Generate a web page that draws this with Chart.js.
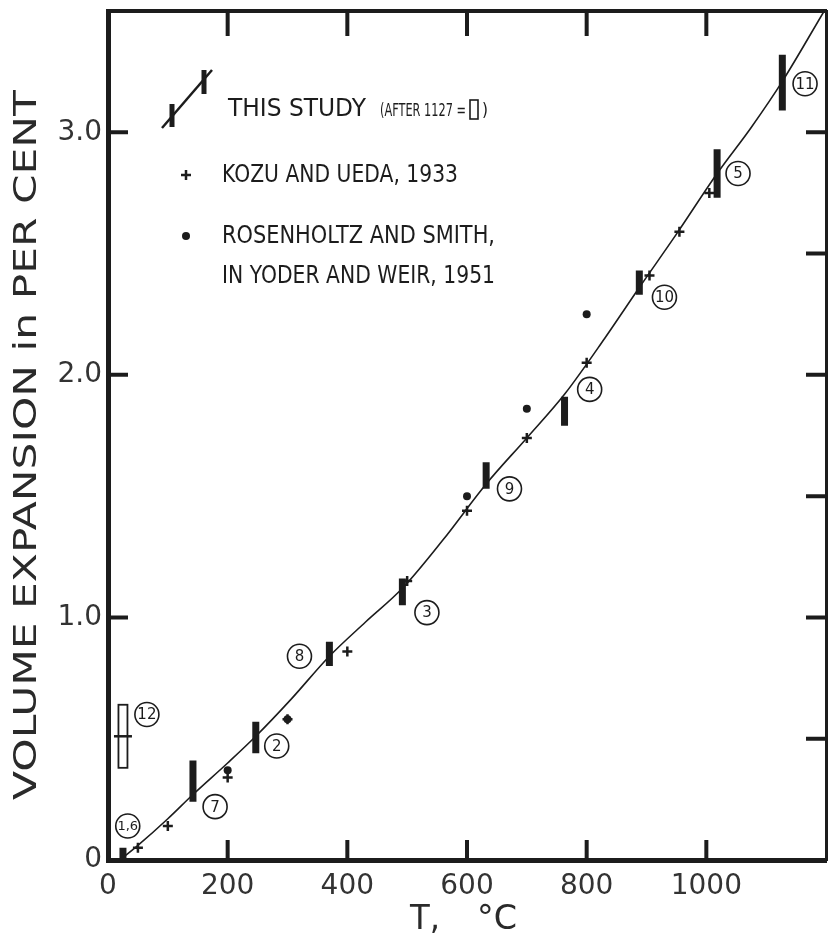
<!DOCTYPE html>
<html>
<head>
<meta charset="utf-8">
<script src="https://cdn.jsdelivr.net/npm/chart.js@4"></script>
<style>
  html, body { margin: 0; padding: 0; background: #fff; }
  #wrap { width: 829px; height: 939px; }
</style>
</head>
<body>
<div id="wrap"><canvas id="chart"></canvas></div>
<script>
// this study: temperature of each run and the range measured
const runT    = [25, 142, 247, 370, 492, 632, 763, 888, 1018, 1127];
const runLow  = [-0.03, 0.24, 0.44, 0.80, 1.05, 1.53, 1.79, 2.33, 2.73, 3.09];
const runHigh = [0.05, 0.41, 0.57, 0.90, 1.16, 1.64, 1.91, 2.43, 2.93, 3.32];
const runNames = ['1,6', '7', '2', '8', '3', '9', '4', '10', '5', '11'];
const runNameT = [33, 179, 282, 320, 533, 671, 805, 930, 1053, 1165];
const runNameY = [0.14, 0.22, 0.47, 0.84, 1.02, 1.53, 1.94, 2.32, 2.83, 3.20];

// run 12, measured after 1127 (open box)
const afterT = [25];
const afterLow = [0.38];
const afterHigh = [0.64];
const afterMid = [0.51];
const afterNames = ['12'];
const afterNameT = [65];
const afterNameY = [0.60];

// Kozu and Ueda, 1933
const kozuT = [50, 100, 200, 300, 400, 500, 600, 700, 800, 905, 955, 1005];
const kozuY = [0.05, 0.14, 0.34, 0.58, 0.86, 1.15, 1.44, 1.74, 2.05, 2.41, 2.59, 2.75];

// Rosenholtz and Smith, in Yoder and Weir, 1951
const rosT = [200, 300, 600, 700, 800];
const rosY = [0.37, 0.58, 1.50, 1.86, 2.25];

// drawn curve
const curveT = [20, 50, 100, 142, 200, 247, 305, 370, 430, 492, 560, 632, 700, 763, 830, 888, 950, 1018, 1075, 1127, 1197];
const curveY = [0.0, 0.06, 0.17, 0.27, 0.40, 0.51, 0.66, 0.84, 0.98, 1.12, 1.32, 1.55, 1.74, 1.92, 2.15, 2.36, 2.58, 2.83, 3.02, 3.21, 3.5];

const ink = '#1c1c1c';
const font = '"DejaVu Sans", sans-serif';

function pts(xs, ys) {
  return xs.map((v, i) => ({ x: v, y: ys[i] }));
}

// vertical ranges as one line with gaps between them
function ranges(xs, lo, hi) {
  let out = [];
  for (let i = 0; i < xs.length; i++) {
    out.push({ x: xs[i], y: lo[i] }, { x: xs[i], y: hi[i] }, { x: xs[i], y: null });
  }
  return out;
}

// text squeezed or stretched to a given width
function fitText(ctx, str, x, y, size, width, rot) {
  ctx.save();
  ctx.font = size + 'px ' + font;
  let w = ctx.measureText(str).width;
  ctx.translate(x, y);
  if (rot) ctx.rotate(rot);
  ctx.scale(width / w, 1);
  ctx.textBaseline = 'middle';
  ctx.textAlign = rot ? 'center' : 'left';
  ctx.fillText(str, 0, 0);
  ctx.restore();
}

function noPad(s) {
  s.paddingTop = 0; s.paddingBottom = 0;
  s.paddingLeft = 0; s.paddingRight = 0;
}

const decor = {
  id: 'decor',
  afterDatasetsDraw(chart) {
    const ctx = chart.ctx;
    const { x, y, y2 } = chart.scales;
    const a = chart.chartArea;
    ctx.save();
    ctx.strokeStyle = ink;
    ctx.fillStyle = ink;

    // tick marks pointing into the frame
    ctx.lineWidth = 4;
    ctx.beginPath();
    y.ticks.forEach(t => {
      if (t.value <= 0 || t.value >= 3.5) return;
      let p = y.getPixelForValue(t.value);
      ctx.moveTo(a.left, p); ctx.lineTo(a.left + 20, p);
    });
    y2.ticks.forEach(t => {
      if (t.value <= 0 || t.value >= 3.5) return;
      let p = y2.getPixelForValue(t.value);
      ctx.moveTo(a.right, p); ctx.lineTo(a.right - 20, p);
    });
    x.ticks.forEach(t => {
      if (t.value <= 0 || t.value >= 1200) return;
      let p = x.getPixelForValue(t.value);
      ctx.moveTo(p, a.bottom); ctx.lineTo(p, a.bottom - 20);
      ctx.moveTo(p, a.top); ctx.lineTo(p, a.top + 25);
    });
    ctx.stroke();

    // open box for run 12
    ctx.lineWidth = 1.8;
    afterT.forEach((t, i) => {
      let px = x.getPixelForValue(t);
      let top = y.getPixelForValue(afterHigh[i]);
      let bot = y.getPixelForValue(afterLow[i]);
      ctx.fillStyle = '#fff';
      ctx.fillRect(px - 4.5, top, 9, bot - top);
      ctx.strokeRect(px - 4.5, top, 9, bot - top);
    });
    // mean mark across it
    ctx.lineWidth = 2.5;
    ctx.beginPath();
    afterT.forEach((t, i) => {
      let px = x.getPixelForValue(t);
      let py = y.getPixelForValue(afterMid[i]);
      ctx.moveTo(px - 9, py); ctx.lineTo(px + 9, py);
    });
    ctx.stroke();

    // run numbers inside the circles
    ctx.fillStyle = ink;
    ctx.textAlign = 'center';
    ctx.textBaseline = 'middle';
    const names = runNames.concat(afterNames);
    chart.getDatasetMeta(4).data.forEach((el, i) => {
      ctx.font = (names[i].length > 2 ? '13px ' : '15px ') + font;
      ctx.fillText(names[i], el.x, el.y + 1);
    });

    // legend
    ctx.lineWidth = 2.5;
    ctx.beginPath();
    ctx.moveTo(162, 128); ctx.lineTo(212, 70);
    ctx.stroke();
    ctx.lineWidth = 5;
    ctx.beginPath();
    ctx.moveTo(172, 104); ctx.lineTo(172, 127);
    ctx.moveTo(204, 70); ctx.lineTo(204, 94);
    ctx.stroke();
    fitText(ctx, 'THIS STUDY', 228, 110, 24, 138);
    fitText(ctx, '(AFTER 1127 =', 380, 111, 18, 86);
    ctx.lineWidth = 1.6;
    ctx.strokeRect(470, 100, 8, 19);
    fitText(ctx, ')', 482, 111, 18, 6);

    ctx.lineWidth = 2.5;
    ctx.beginPath();
    ctx.moveTo(181, 175); ctx.lineTo(191, 175);
    ctx.moveTo(186, 170); ctx.lineTo(186, 180);
    ctx.stroke();
    fitText(ctx, 'KOZU AND UEDA, 1933', 222, 176, 24, 236);

    ctx.beginPath();
    ctx.arc(186, 236, 4, 0, Math.PI * 2);
    ctx.fill();
    fitText(ctx, 'ROSENHOLTZ AND SMITH,', 222, 237, 24, 273);
    fitText(ctx, 'IN YODER AND WEIR, 1951', 222, 277, 24, 273);

    // axis titles
    ctx.fillStyle = '#2a2a2a';
    fitText(ctx, 'VOLUME EXPANSION in PER CENT', 28, 445, 32, 710, -Math.PI / 2);
    fitText(ctx, 'T,', 410, 920, 34, 30);
    fitText(ctx, '°C', 477, 920, 34, 40);
    ctx.restore();
  }
};

new Chart(document.getElementById('chart'), {
  type: 'scatter',
  data: {
    datasets: [
      {
        type: 'line',
        data: pts(curveT, curveY),
        borderColor: ink,
        borderWidth: 1.6,
        pointRadius: 0,
        cubicInterpolationMode: 'monotone',
        fill: false
      },
      {
        data: pts(kozuT, kozuY),
        pointStyle: 'cross',
        radius: 5,
        borderWidth: 2.5,
        borderColor: ink
      },
      {
        data: pts(rosT, rosY),
        pointStyle: 'circle',
        radius: 4,
        backgroundColor: ink,
        borderColor: ink,
        borderWidth: 0
      },
      {
        type: 'line',
        data: ranges(runT, runLow, runHigh),
        borderColor: ink,
        borderWidth: 7,
        borderCapStyle: 'butt',
        pointRadius: 0,
        spanGaps: false,
        fill: false
      },
      {
        data: pts(runNameT.concat(afterNameT), runNameY.concat(afterNameY)),
        pointStyle: 'circle',
        radius: 12,
        backgroundColor: '#fff',
        borderColor: ink,
        borderWidth: 1.6
      }
    ]
  },
  options: {
    responsive: true,
    maintainAspectRatio: false,
    animation: false,
    layout: { autoPadding: false, padding: { top: 11, right: 3, left: 0, bottom: 0 } },
    plugins: { legend: { display: false }, tooltip: { enabled: false } },
    scales: {
      x: {
        type: 'linear', position: 'bottom', min: 0, max: 1200,
        grid: { display: false, drawTicks: false },
        border: { display: true, width: 5, color: ink },
        ticks: {
          stepSize: 200, padding: 10, color: '#333',
          font: { family: font, size: 28 },
          callback: v => (v >= 1200 ? '' : String(v))
        },
        afterFit: s => { s.height = 79; noPad(s); }
      },
      x2: {
        type: 'linear', position: 'top', min: 0, max: 1200,
        grid: { display: false, drawTicks: false },
        border: { display: true, width: 4, color: ink },
        ticks: { display: false },
        afterFit: s => { s.height = 0; noPad(s); }
      },
      y: {
        type: 'linear', position: 'left', min: 0, max: 3.5,
        grid: { display: false, drawTicks: false },
        border: { display: true, width: 5, color: ink },
        ticks: {
          stepSize: 1, padding: 6, color: '#333',
          font: { family: font, size: 28 },
          callback: v => (v === 0 ? '0' : (v > 3.2 ? '' : v.toFixed(1)))
        },
        afterFit: s => { s.width = 108; noPad(s); }
      },
      y2: {
        type: 'linear', position: 'right', min: 0, max: 3.5,
        grid: { display: false, drawTicks: false },
        border: { display: true, width: 3, color: ink },
        ticks: { display: false, stepSize: 0.5 },
        afterFit: s => { s.width = 0; noPad(s); }
      }
    }
  },
  plugins: [decor]
});
</script>
</body>
</html>
